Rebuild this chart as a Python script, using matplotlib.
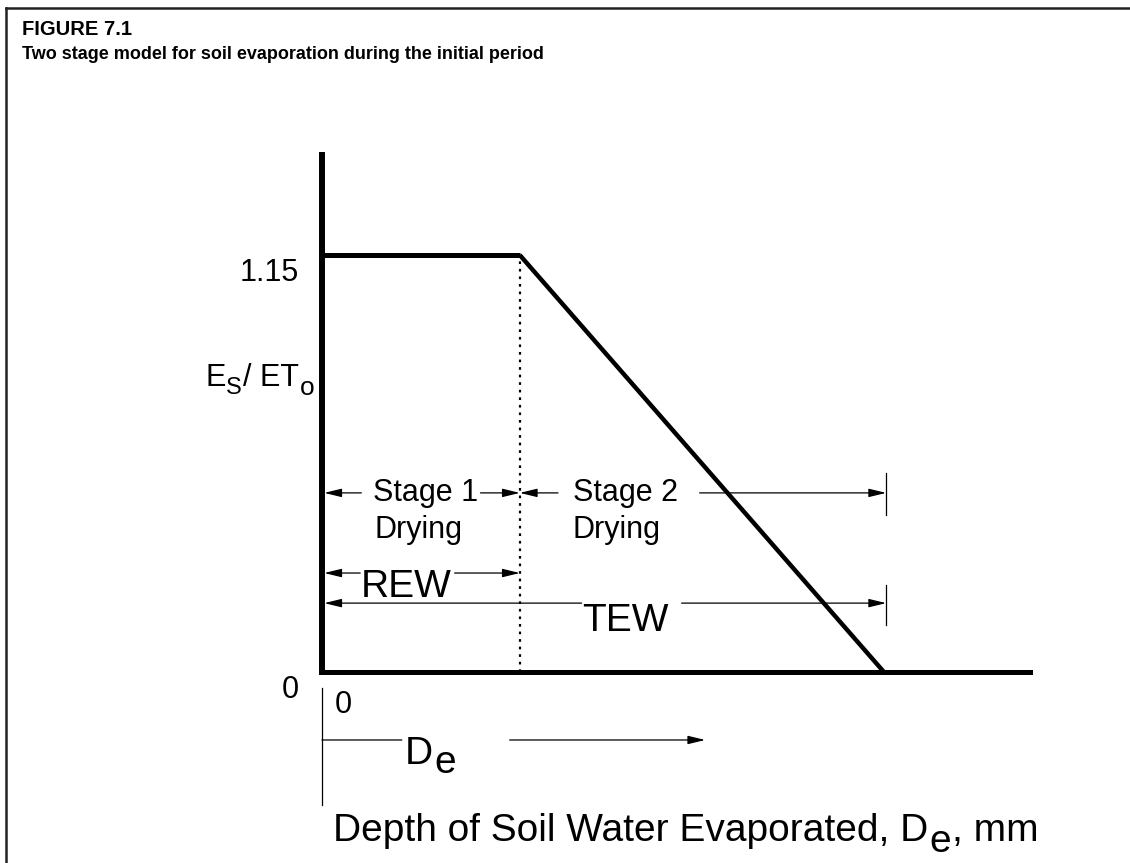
import matplotlib
matplotlib.use("Agg")
import matplotlib.pyplot as plt
from matplotlib.lines import Line2D

plt.rcParams["font.family"] = ["Liberation Sans", "DejaVu Sans"]

# Two-stage soil evaporation model (schematic values)
REW = 8.8          # readily evaporable water, mm (end of stage 1)
TEW = 25.0         # total evaporable water, mm (end of stage 2)
ES_ETO_MAX = 1.15  # Es/ETo during stage 1
stage_depth = [0.0, REW, TEW]
stage_ratio = [ES_ETO_MAX, ES_ETO_MAX, 0.0]
y_tick_values = [0.0, ES_ETO_MAX]
y_tick_labels = ["0", "1.15"]

W, H = 1130, 863
fig = plt.figure(figsize=(W / 100, H / 100), dpi=100)
fig.patch.set_facecolor("white")

# page frame (top and left rules)
fig.add_artist(Line2D([6 / W, 1.0], [1 - 8 / H, 1 - 8 / H], color="#222222", lw=1.8))
fig.add_artist(Line2D([6 / W, 6 / W], [1 - 8 / H, 0.0], color="#222222", lw=1.8))

fig.text(22 / W, 1 - 20 / H, "FIGURE 7.1", fontsize=14.5, fontweight="bold", va="top")
fig.text(22 / W, 1 - 46 / H, "Two stage model for soil evaporation during the initial period",
         fontsize=13, fontweight="bold", va="top")

ax = fig.add_axes([322 / W, 1 - 672 / H, (1030 - 322) / W, (672 - 155) / H])
ax.set_xlim(0, 31.5)
ax.set_ylim(0, 1.426)
for side in ("top", "right"):
    ax.spines[side].set_visible(False)
ax.spines["left"].set_linewidth(4.3)
ax.spines["bottom"].set_linewidth(3.6)
for side in ("left", "bottom"):
    ax.spines[side].set_capstyle("projecting")
ax.set_xticks([])
ax.set_yticks([])

# evaporation curve: plateau then linear decline
ax.plot(stage_depth[:2], stage_ratio[:2], color="black", lw=3.6, solid_capstyle="butt", clip_on=False)
ax.plot(stage_depth[1:], stage_ratio[1:], color="black", lw=3.2, solid_capstyle="butt", clip_on=False)
ax.plot([REW, REW], [0, ES_ETO_MAX], color="black", lw=1.6, linestyle=(0, (1.2, 2.2)))

# y-axis value labels
for v, lab in zip(y_tick_values, y_tick_labels):
    ax.annotate(lab, xy=(0, v), xytext=(-17, -2), textcoords="offset points",
                ha="right", va="top", fontsize=22, annotation_clip=False)


def chain(parts, x, y, **kw):
    """Draw text pieces side by side; each piece is (text, size, drop_pt)."""
    prev = None
    for txt, size, drop in parts:
        if prev is None:
            prev = ax.annotate(txt, xy=(x, y), xytext=(0, -drop), textcoords="offset points",
                               fontsize=size, ha="left", va="baseline",
                               annotation_clip=False, **kw)
        else:
            prev = ax.annotate(txt, xy=(1, y), xycoords=(prev, "data"),
                               xytext=(0.6, -drop), textcoords="offset points",
                               fontsize=size, ha="left", va="baseline",
                               annotation_clip=False, **kw)
    return prev


# y-axis title E_S / ET_o
chain([("E", 22, 0), ("S", 17, 6), ("/ ET", 22, 0), ("o", 19, 7)], -5.2, 0.79)


def dim_arrow(x0, x1, y, head=True):
    style = "-|>,head_length=0.7,head_width=0.17" if head else "-"
    ax.annotate("", xy=(x1, y), xytext=(x0, y), annotation_clip=False,
                arrowprops=dict(arrowstyle=style, lw=0.9, color="black",
                                shrinkA=0, shrinkB=0, mutation_scale=15))


def tick(x, y0, y1):
    ax.plot([x, x], [y0, y1], color="black", lw=0.9, clip_on=False)


# stage 1 / stage 2 extents
y_stage = 0.494
dim_arrow(1.75, 0.1, y_stage)
dim_arrow(7.05, REW, y_stage)
dim_arrow(10.5, REW, y_stage)
dim_arrow(16.8, TEW + 0.1, y_stage)
tick(TEW + 0.1, 0.433, 0.549)
ax.text(2.25, y_stage, "Stage 1", fontsize=22, va="center", ha="left")
ax.text(2.35, y_stage - 0.102, "Drying", fontsize=22, va="center", ha="left")
ax.text(11.15, y_stage, "Stage 2", fontsize=22, va="center", ha="left")
ax.text(11.15, y_stage - 0.102, "Drying", fontsize=22, va="center", ha="left")

# REW and TEW extents
y_rew = 0.273
dim_arrow(1.7, 0.1, y_rew)
dim_arrow(5.9, REW, y_rew)
ax.text(3.75, y_rew + 0.01, "REW", fontsize=28, ha="center", va="top")

y_tew = 0.19
dim_arrow(11.55, 0.1, y_tew)
dim_arrow(16.0, TEW + 0.1, y_tew)
tick(TEW + 0.1, 0.13, 0.24)
ax.text(13.5, y_tew + 0.0, "TEW", fontsize=28, ha="center", va="top")

# depth direction indicator below the axis
tick(0, -0.044, -0.367)
ax.text(0.55, -0.05, "0", fontsize=22, ha="left", va="top")
y_de = -0.1875
dim_arrow(0, 3.55, y_de, head=False)
dim_arrow(8.35, 17.05, y_de)
chain([("D", 28, 0), ("e", 28, 6)], 3.7, -0.255)

# x-axis title with lowered subscript
chain([("Depth of Soil Water Evaporated, D", 28, 0), ("e", 28, 8), (", mm", 28, 0)],
      0.5, -0.465)

fig.savefig("out.png", dpi=100)
